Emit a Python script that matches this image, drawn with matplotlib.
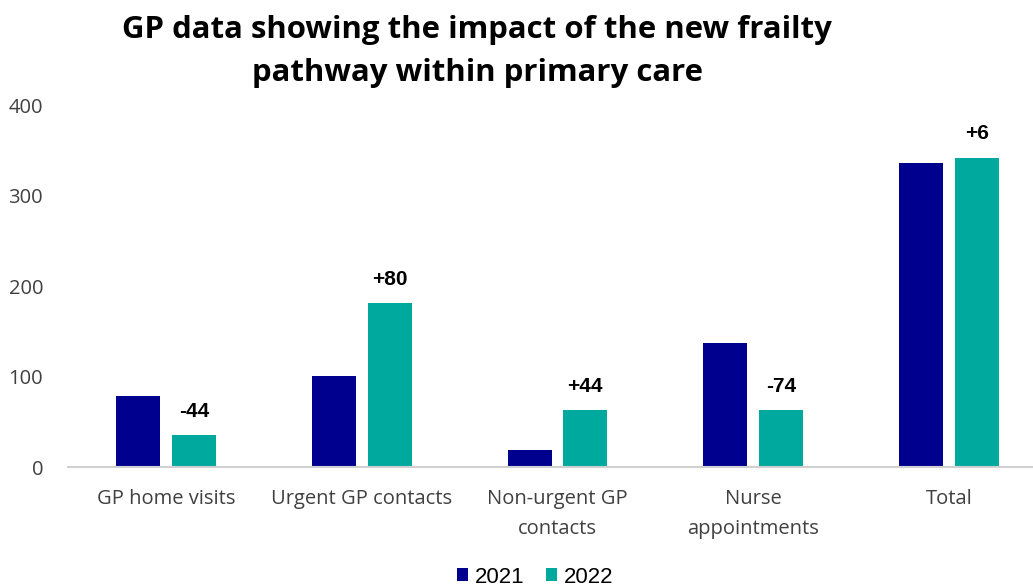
import numpy as np
import matplotlib.pyplot as plt

categories = ["GP home visits", "Urgent GP contacts", "Non-urgent GP\ncontacts",
              "Nurse\nappointments", "Total"]
visits_2021 = [79, 101, 19, 137, 336]
visits_2022 = [35, 181, 63, 63, 342]
years = ["2021", "2022"]

navy = "#00008f"
teal = "#00a99d"

fig = plt.figure(figsize=(10.33, 5.87), dpi=100)
ax = fig.add_axes([0.066, 0.2044, 0.934, 0.6167])

x = np.arange(len(categories))
w = 0.225
ax.bar(x - 0.142, visits_2021, w, color=navy, label=years[0])
ax.bar(x + 0.142, visits_2022, w, color=teal, label=years[1])

# change labels above the 2022 bars
for xi, a, b in zip(x, visits_2021, visits_2022):
    d = b - a
    ax.text(xi + 0.142, b + 16, f"{d:+d}", ha="center", va="bottom",
            fontsize=15, fontweight="bold", color="black", family="Liberation Sans")

ax.set_xlim(-0.5, 4.43)
ax.set_ylim(0, 400)
ax.set_yticks([0, 100, 200, 300, 400])
ax.set_xticks(x)
ax.set_xticklabels(categories, fontsize=14.5, color="#404040", family="Open Sans",
                   linespacing=1.7)
ax.tick_params(axis="y", labelsize=14.5, labelcolor="#404040", length=0, pad=18)
ax.tick_params(axis="x", length=0, pad=15.5)
for lab in ax.get_yticklabels():
    lab.set_family("Open Sans")

for s in ["top", "right", "left"]:
    ax.spines[s].set_visible(False)
ax.spines["bottom"].set_color("#d0d0d0")
ax.spines["bottom"].set_linewidth(1.5)

fig.text(0.462, 0.975, "GP data showing the impact of the new frailty\npathway within primary care",
         ha="center", va="top", fontsize=22.4, fontweight="bold", family="Open Sans",
         linespacing=1.6)

fig.legend(loc="lower center", bbox_to_anchor=(0.518, -0.035), ncol=2, frameon=False,
           prop={"family": "Liberation Sans", "size": 16}, handlelength=0.5,
           handleheight=0.5, handletextpad=0.3, columnspacing=1.0)

fig.savefig("out.png", dpi=100)
